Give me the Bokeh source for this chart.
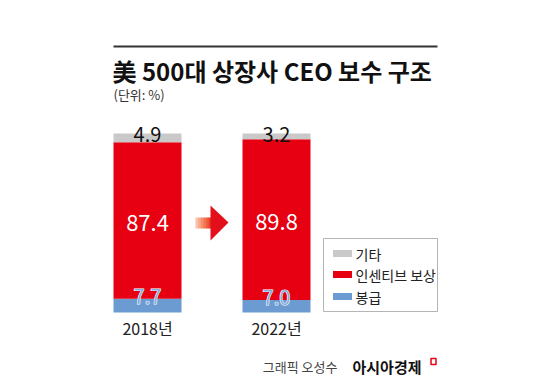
from bokeh.plotting import figure
from bokeh.models import ColumnDataSource, Range1d
from bokeh.core.properties import value
from bokeh.embed import file_html
from bokeh.resources import INLINE

# ---- data ----
years = ["2018년", "2022년"]
salary = [7.7, 7.0]          # 봉급
incentive = [87.4, 89.8]     # 인센티브 보상
other = [4.9, 3.2]           # 기타
series_names = ["기타", "인센티브 보상", "봉급"]
title_text = "美 500대 상장사 CEO 보수 구조"
unit_text = "(단위: %)"
credit_text = "그래픽 오성수"
brand_text = "아시아경제"

# ---- layout constants (pixels in the picture) ----
W, H = 534, 376
CX0, PPX = 147, 129        # x of first bar centre, px per category step
CY0, PPY = 312, 1.79       # y of value 0, px per percent
FONT = value("Noto Sans CJK KR")

GRAY, RED, BLUE = "#c9c9c9", "#e60012", "#6b9bd1"

x_start = -CX0 / PPX
x_end = (W - CX0) / PPX
y_start = -(H - CY0) / PPY
y_end = CY0 / PPY

def dx(px):
    return (px - CX0) / PPX

def dy(py):
    return (CY0 - py) / PPY

p = figure(width=W, height=H, output_backend="svg", toolbar_location=None,
           x_range=Range1d(x_start, x_end), y_range=Range1d(y_start, y_end),
           min_border=0, x_axis_location=None, y_axis_location=None)
p.outline_line_color = None
p.xgrid.visible = False
p.ygrid.visible = False
p.background_fill_color = "white"
p.border_fill_color = "white"

idx = list(range(len(years)))
src = ColumnDataSource(dict(x=idx, salary=salary, incentive=incentive, other=other))
p.vbar_stack(["salary", "incentive", "other"], x="x", width=68 / PPX,
             color=[BLUE, RED, GRAY], line_color=None, source=src)

# value labels
tops = [s + i + o for s, i, o in zip(salary, incentive, other)]
p.text(x=idx, y=[t - 0.5 / PPY for t in tops], text=[f"{v:.1f}" for v in other],
       text_align="center", text_baseline="middle", text_font=FONT,
       text_font_size="20px", text_color="#111111")
p.text(x=idx, y=[s + i / 2 - 1.5 for s, i in zip(salary, incentive)],
       text=[f"{v:.1f}" for v in incentive], text_align="center",
       text_baseline="middle", text_font=FONT, text_font_size="22px",
       text_color="white")
sal_y = [s + 1.2 for s in salary]
sal_t = [f"{v:.1f}" for v in salary]
p.text(x=idx, y=sal_y, text=sal_t, text_align="center", text_baseline="middle",
       text_font=FONT, text_font_size="20px", text_color="white",
       text_outline_color="white")
p.text(x=idx, y=sal_y, text=sal_t, text_align="center", text_baseline="middle",
       text_font=FONT, text_font_size="20px", text_color="#84acdb")

# year labels
p.text(x=idx, y=[dy(327)] * len(idx), text=years, text_align="center",
       text_baseline="middle", text_font=FONT, text_font_size="16px",
       text_color="#222222")

# title block
p.segment(x0=[dx(113)], y0=[dy(46)], x1=[dx(437)], y1=[dy(46)],
          line_color="#333333", line_width=2)
p.text(x=[dx(112)], y=[dy(70)], text=[title_text], text_font=FONT,
       text_font_style="bold", text_font_size="24px", text_baseline="middle",
       text_color="#111111")
p.text(x=[dx(113)], y=[dy(94)], text=[unit_text], text_font=FONT,
       text_font_size="13px", text_baseline="middle", text_color="#333333")

# arrow (decoration)
tail_cols = ["#f9c2a8", "#f7a88a", "#f48e6c", "#f0744f", "#ec5a38", "#e84026"]
seg = (211 - 195) / len(tail_cols)
for k, c in enumerate(tail_cols):
    p.quad(left=[dx(195 + k * seg)], right=[dx(195 + (k + 1) * seg + 0.5)],
           top=[dy(217)], bottom=[dy(228)], fill_color=c, line_color=None)
p.patch(x=[dx(210), dx(228), dx(210)], y=[dy(205), dy(222), dy(240)],
        fill_color="#e3101c", line_color=None)

# legend (manual)
p.quad(left=[dx(323)], right=[dx(437)], top=[dy(238)], bottom=[dy(311)],
       fill_color="white", line_color="#b5b5b5", line_width=1)
leg_y = [253, 274, 296]
leg_cols = [GRAY, RED, BLUE]
p.rect(x=[dx(342)] * 3, y=[dy(v) for v in leg_y], width=19, height=7,
       width_units="screen", height_units="screen", fill_color=leg_cols,
       line_color=None)
p.text(x=[dx(355)] * 3, y=[dy(v) for v in leg_y], text=series_names,
       text_font=FONT, text_font_size="14px", text_baseline="middle",
       text_color="#222222")

# footer
p.text(x=[dx(337)], y=[dy(366)], text=[credit_text], text_font=FONT,
       text_font_size="13px", text_align="right", text_baseline="middle",
       text_color="#444444")
p.text(x=[dx(352)], y=[dy(366)], text=[brand_text], text_font=FONT,
       text_font_style="bold", text_font_size="15px", text_baseline="middle",
       text_color="#111111")
p.rect(x=[dx(433)], y=[dy(361)], width=5, height=6, width_units="screen",
       height_units="screen", fill_color="white", line_color=RED, line_width=1.5)

open("out.html", "w").write(file_html(p, INLINE))
